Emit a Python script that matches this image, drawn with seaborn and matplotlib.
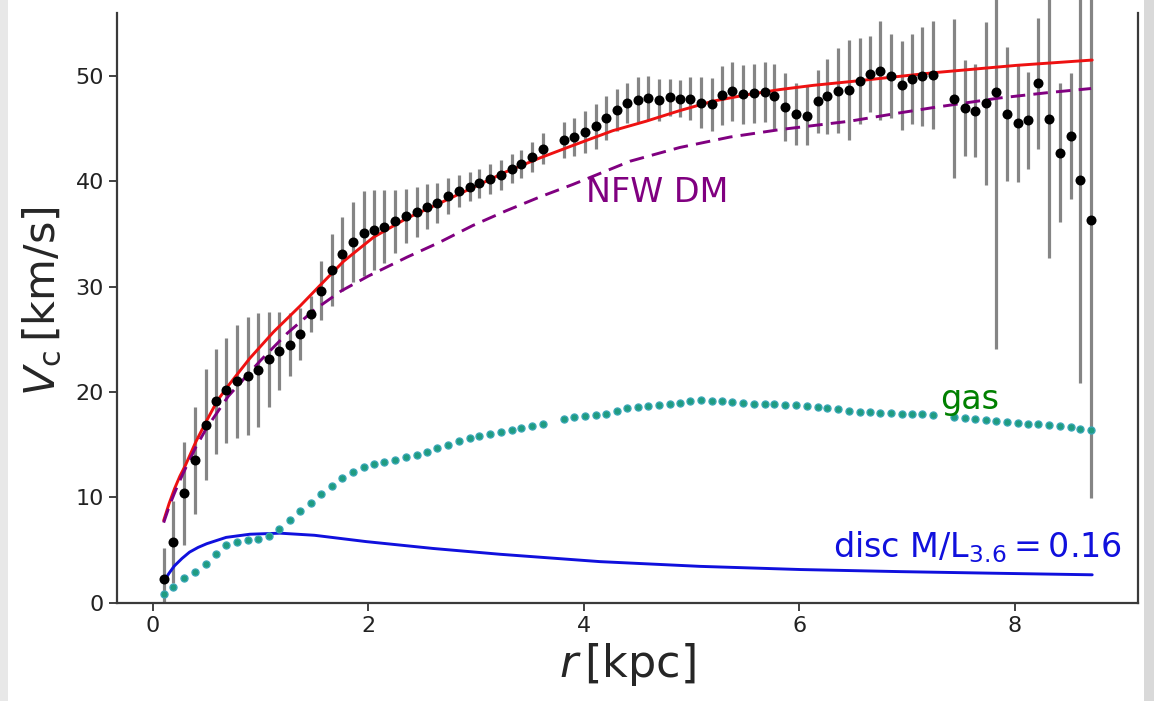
import matplotlib
matplotlib.use("Agg")
import matplotlib.pyplot as plt
import seaborn as sns
from matplotlib.patches import Rectangle

# observed rotation curve (radius kpc, velocity km/s, error km/s)
r_obs = [0.10, 0.19, 0.29, 0.39, 0.49, 0.59, 0.68, 0.78, 0.88, 0.98,
         1.08, 1.17, 1.27, 1.37, 1.47, 1.56, 1.66, 1.76, 1.86, 1.96,
         2.05, 2.15, 2.25, 2.35, 2.45, 2.54, 2.64, 2.74, 2.84, 2.94,
         3.03, 3.13, 3.23, 3.33, 3.42, 3.52, 3.62, 3.82, 3.91,
         4.01, 4.11, 4.21, 4.31, 4.40, 4.50, 4.60, 4.70, 4.80, 4.89,
         4.99, 5.09, 5.19, 5.28, 5.38, 5.48, 5.58, 5.68, 5.77, 5.87,
         5.97, 6.07, 6.17, 6.26, 6.36, 6.46, 6.56, 6.66, 6.75, 6.85,
         6.95, 7.05, 7.14, 7.24, 7.44, 7.54, 7.63, 7.73, 7.83,
         7.93, 8.03, 8.12, 8.22, 8.32, 8.42, 8.52, 8.61, 8.71]
v_obs = [2.25, 5.8, 10.4, 13.5, 16.9, 19.1, 20.15, 21.0, 21.5, 22.1,
         23.1, 23.9, 24.5, 25.5, 27.4, 29.6, 31.6, 33.1, 34.2, 35.05,
         35.4, 35.7, 36.2, 36.7, 37.1, 37.6, 37.95, 38.6, 39.1, 39.5,
         39.8, 40.2, 40.6, 41.2, 41.65, 42.3, 43.1, 43.9, 44.2,
         44.7, 45.2, 46.0, 46.75, 47.45, 47.75, 47.9, 47.75, 47.95, 47.85,
         47.85, 47.45, 47.3, 48.15, 48.55, 48.25, 48.35, 48.5, 48.05, 47.05,
         46.35, 46.2, 47.6, 48.05, 48.6, 48.7, 49.5, 50.2, 50.5, 50.0,
         49.1, 49.7, 49.95, 50.1, 47.85, 46.95, 46.7, 47.4, 48.5,
         46.35, 45.5, 45.8, 49.3, 45.9, 42.7, 44.3, 40.15, 36.3]
e_obs = [2.9, 3.9, 4.9, 5.1, 5.3, 5.0, 5.0, 5.4, 5.6, 5.4,
         4.5, 3.7, 3.0, 2.45, 1.7, 2.8, 3.4, 3.5, 3.8, 4.0,
         3.8, 3.5, 3.0, 2.6, 2.35, 2.1, 1.9, 1.75, 1.5, 1.4,
         1.4, 1.4, 1.45, 1.35, 1.35, 1.4, 1.5, 1.7, 1.8,
         2.0, 2.1, 2.1, 2.0, 1.9, 2.1, 2.1, 2.0, 1.75, 1.75,
         2.0, 2.4, 2.5, 2.8, 2.8, 2.8, 2.8, 2.85, 3.1, 3.25,
         2.95, 2.8, 3.0, 3.55, 4.0, 4.75, 4.1, 3.6, 4.7, 4.0,
         4.25, 4.3, 4.7, 5.1, 7.5, 4.55, 4.4, 7.75, 24.4,
         6.35, 5.55, 4.6, 6.2, 13.2, 6.6, 6.0, 19.3, 26.4]

# gas contribution at the same radii
v_gas = [0.8, 1.5, 2.3, 2.95, 3.65, 4.6, 5.45, 5.8, 5.95, 6.05,
         6.3, 7.0, 7.85, 8.7, 9.5, 10.3, 11.05, 11.8, 12.45, 12.9,
         13.15, 13.4, 13.55, 13.85, 14.0, 14.3, 14.65, 15.0, 15.35, 15.6,
         15.85, 16.05, 16.2, 16.4, 16.6, 16.8, 17.0, 17.4, 17.6,
         17.7, 17.8, 17.95, 18.2, 18.45, 18.6, 18.65, 18.75, 18.85, 19.0,
         19.15, 19.2, 19.15, 19.1, 19.05, 19.0, 18.9, 18.85, 18.85, 18.8,
         18.75, 18.7, 18.6, 18.5, 18.35, 18.2, 18.1, 18.1, 18.05, 18.0,
         17.95, 17.9, 17.9, 17.85, 17.65, 17.5, 17.4, 17.3, 17.2,
         17.15, 17.1, 17.0, 16.95, 16.85, 16.75, 16.65, 16.5, 16.4]

# model curves
r_tot = [0.10, 0.15, 0.20, 0.25, 0.30, 0.40, 0.50, 0.60, 0.70, 0.90,
         1.12, 1.37, 1.55, 1.77, 2.05, 2.36, 2.66, 2.97, 3.28, 3.59,
         3.90, 4.27, 4.58, 4.89, 5.20, 5.51, 5.82, 6.13, 6.47, 7.25,
         8.02, 8.72]
v_tot = [7.8, 9.4, 10.8, 12.0, 13.0, 15.3, 17.3, 19.2, 20.6, 23.2,
         25.7, 28.2, 30.1, 32.4, 34.7, 36.5, 37.9, 39.4, 40.9, 42.2,
         43.4, 44.8, 45.7, 46.7, 47.6, 48.2, 48.7, 49.1, 49.45, 50.3,
         51.0, 51.5]

r_nfw = [0.10, 0.15, 0.20, 0.25, 0.30, 0.40, 0.50, 0.70, 1.00, 1.25,
         1.50, 1.75, 2.00, 2.36, 2.66, 2.97, 3.28, 3.59, 3.90, 4.43,
         4.89, 5.36, 5.82, 6.47, 6.94, 7.25, 7.86, 8.30, 8.71]
v_nfw = [7.6, 9.1, 10.4, 11.6, 12.7, 14.8, 16.6, 19.6, 23.0, 25.6,
         27.8, 29.6, 31.0, 32.8, 34.2, 35.8, 37.2, 38.5, 39.7, 41.9,
         43.2, 44.2, 44.9, 45.7, 46.5, 47.0, 47.9, 48.4, 48.8]

r_disc = [0.10, 0.15, 0.20, 0.27, 0.34, 0.42, 0.50, 0.68, 0.90, 1.18,
          1.50, 1.98, 2.60, 3.22, 4.15, 5.08, 6.01, 6.94, 7.80, 8.72]
v_disc = [2.0, 2.8, 3.5, 4.2, 4.8, 5.25, 5.6, 6.2, 6.5, 6.6,
          6.4, 5.8, 5.15, 4.6, 3.9, 3.45, 3.15, 2.95, 2.8, 2.65]

sns.set_style("ticks")
plt.rcParams["font.family"] = ["DejaVu Sans"]
plt.rcParams["mathtext.fontset"] = "dejavusans"

fig = plt.figure(figsize=(11.54, 7.01), dpi=100)
ax = fig.add_axes([0.1016, 0.1402, 0.8848, 0.8598])

ax.errorbar(r_obs, v_obs, yerr=e_obs, fmt="none", ecolor="#858585",
            elinewidth=2.3, capsize=0, zorder=1)
sns.lineplot(x=r_tot, y=v_tot, ax=ax, color="#ee1111", linewidth=2.1,
             sort=False, estimator=None, zorder=2)
sns.lineplot(x=r_nfw, y=v_nfw, ax=ax, color="purple", linewidth=2.1,
             linestyle=(0, (5, 2.8)), sort=False, estimator=None, zorder=2)
sns.lineplot(x=r_disc, y=v_disc, ax=ax, color="#1010dd", linewidth=2.1,
             sort=False, estimator=None, zorder=2)
sns.scatterplot(x=r_obs, y=v_gas, ax=ax, marker="o", s=26, color="#1f9c80",
                edgecolor="#3aa7b8", linewidth=0.9, zorder=3)
sns.scatterplot(x=r_obs, y=v_obs, ax=ax, marker="o", s=52, color="black",
                linewidth=0, zorder=4)

ax.text(4.02, 38.05, "NFW DM", color="purple", fontsize=24)
ax.text(7.31, 18.4, "gas", color="green", fontsize=24)
ax.text(6.31, 4.35, r"disc M/L$_{3.6}=0.16$", color="#1010dd", fontsize=24)

ax.set_xlim(-0.331, 9.148)
ax.set_ylim(0, 57.2)
ax.set_xticks([0, 2, 4, 6, 8])
ax.set_yticks([0, 10, 20, 30, 40, 50])
ax.tick_params(labelsize=16, length=6, width=1.3, color="#333333",
               labelcolor="#222222")
ax.set_xlabel(r"$r\,[{\rm kpc}]$", fontsize=32, labelpad=4)
ax.set_ylabel(r"$V_{\rm c}\,[{\rm km/s}]$", fontsize=31, labelpad=8)

ax.spines["top"].set_visible(False)
for side in ["left", "bottom", "right"]:
    ax.spines[side].set_linewidth(1.6)
    ax.spines[side].set_color("#3a3a3a")
ax.spines["left"].set_bounds(0, 56)
ax.spines["right"].set_bounds(0, 56)

# screenshot frame strips
fig.patches.append(Rectangle((1144 / 1154, 0), 10 / 1154, 1, transform=fig.transFigure,
                             facecolor="#d9d9d9", edgecolor="none", zorder=0))
fig.patches.append(Rectangle((0, 0), 8 / 1154, 1, transform=fig.transFigure,
                             facecolor="#e8e8e8", edgecolor="none", zorder=0))

fig.savefig("out.png", dpi=100)
